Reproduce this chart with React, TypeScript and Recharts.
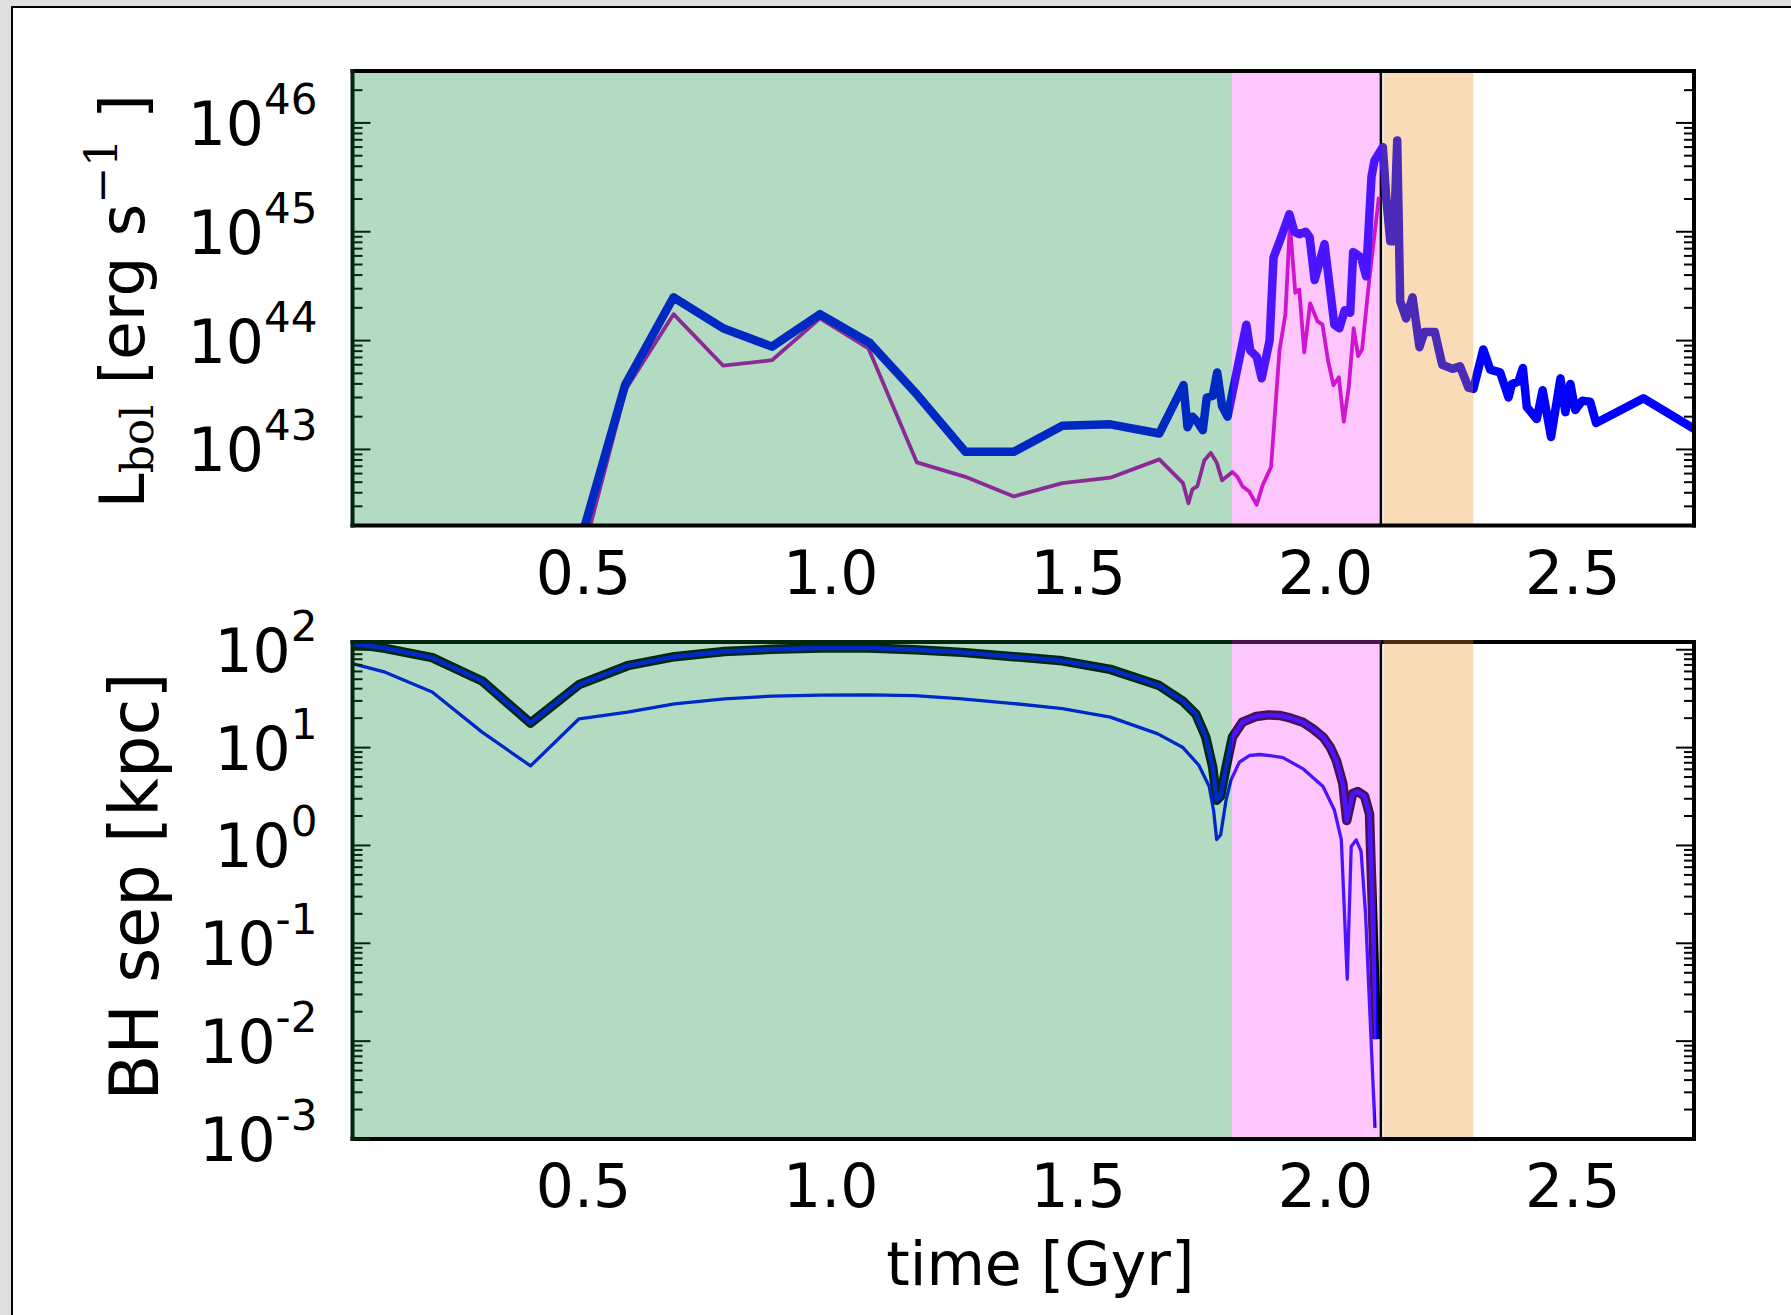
import React from 'react';
import { LineChart, Line, XAxis, YAxis, ReferenceArea, ReferenceLine } from 'recharts';

type Pt = [number, number];

const SANS = '"DejaVu Sans", Verdana, sans-serif';
const SERIF = '"DejaVu Serif", "Liberation Serif", serif';

// time axis [Gyr] and merger phases
const timeRange: [number, number] = [0.033, 2.745];
const timeTicks = [0.5, 1.0, 1.5, 2.0, 2.5];
const timeTickLabels = ['0.5', '1.0', '1.5', '2.0', '2.5'];
const phaseStart = [0.033, 1.811, 2.117];
const phaseEnd = [1.811, 2.113, 2.299];
const phaseFill = ['#b3dbc1', '#fdc6fd', '#f9dbb8'];
const colourEdges = [1.811, 2.115, 2.299];
const mergerTime = 2.112;

// top panel: bolometric luminosity [erg/s]
const lumRange: [number, number] = [2e42, 3e46];
const lumDecades = [1e43, 1e44, 1e45, 1e46];
const lumTickExps = ['43', '44', '45', '46'];

const totalLum: Pt[] = [
  [0.491, 1.3e42], [0.584, 3.9e43], [0.682, 2.5e44], [0.782, 1.3e44], [0.881, 8.8e43],
  [0.978, 1.75e44], [1.079, 9.5e43], [1.174, 3.2e43], [1.272, 9.5e42], [1.37, 9.5e42],
  [1.468, 1.65e43], [1.565, 1.7e43], [1.664, 1.4e43], [1.713, 3.9e43], [1.721, 1.6e43],
  [1.731, 2.0e43], [1.741, 1.8e43], [1.752, 1.5e43], [1.76, 3.0e43], [1.772, 3.1e43],
  [1.781, 5.1e43], [1.791, 2.5e43], [1.802, 2.0e43], [1.84, 1.4e44], [1.848, 8.1e43],
  [1.861, 7.1e43], [1.871, 4.5e43], [1.887, 1.0e44], [1.895, 5.8e44], [1.91, 8.8e44],
  [1.927, 1.45e45], [1.937, 1.0e45], [1.947, 9.5e44], [1.96, 1.0e45], [1.968, 8.9e44],
  [1.978, 3.6e44], [1.998, 7.7e44], [2.018, 1.4e44], [2.028, 1.3e44], [2.039, 1.9e44],
  [2.05, 1.8e44], [2.056, 6.5e44], [2.072, 5.8e44], [2.082, 3.9e44], [2.093, 3.2e45],
  [2.099, 4.5e45], [2.116, 6.0e45], [2.123, 2.0e45], [2.131, 8.2e44], [2.138, 8.2e44],
  [2.145, 6.9e45], [2.151, 2.3e44], [2.163, 1.6e44], [2.176, 2.5e44], [2.19, 8.7e43],
  [2.2, 1.2e44], [2.221, 1.2e44], [2.236, 6.0e43], [2.257, 5.5e43], [2.272, 5.8e43],
  [2.289, 3.7e43], [2.299, 3.6e43], [2.319, 8.3e43], [2.333, 5.4e43], [2.353, 5.1e43],
  [2.37, 3.0e43], [2.377, 4.0e43], [2.39, 4.2e43], [2.399, 5.6e43], [2.407, 2.45e43],
  [2.427, 1.9e43], [2.439, 3.5e43], [2.456, 1.3e43], [2.475, 4.5e43], [2.485, 2.2e43],
  [2.495, 4.0e43], [2.505, 2.3e43], [2.519, 2.8e43], [2.535, 2.75e43], [2.547, 1.75e43],
  [2.643, 2.95e43], [2.75, 1.5e43],
];

const bhLum: Pt[] = [
  [0.491, 8e41], [0.586, 3.6e43], [0.682, 1.75e44], [0.782, 5.9e43], [0.881, 6.6e43],
  [0.978, 1.6e44], [1.076, 8.5e43], [1.174, 7.6e42], [1.272, 5.6e42], [1.37, 3.7e42],
  [1.468, 4.9e42], [1.565, 5.5e42], [1.664, 8.1e42], [1.712, 4.9e42], [1.723, 3.2e42],
  [1.731, 4.3e42], [1.741, 4.6e42], [1.755, 7.9e42], [1.768, 9.3e42], [1.78, 7.6e42],
  [1.791, 5.2e42], [1.812, 6.2e42], [1.822, 5.6e42], [1.832, 4.6e42], [1.846, 4.1e42],
  [1.861, 3.1e42], [1.873, 4.7e42], [1.89, 6.9e42], [1.907, 8.1e43], [1.919, 1.75e44],
  [1.928, 1.17e45], [1.939, 2.75e44], [1.947, 2.95e44], [1.957, 7.8e43], [1.969, 2.2e44],
  [1.984, 1.5e44], [1.994, 1.4e44], [2.005, 6.6e43], [2.016, 3.9e43], [2.027, 4.6e43],
  [2.037, 1.8e43], [2.047, 3.7e43], [2.057, 1.3e44], [2.066, 7.2e43], [2.074, 8.3e43],
  [2.089, 3.8e44], [2.108, 2.1e45],
];

// bottom panel: BH separation [kpc]
const sepRange: [number, number] = [1e-3, 120];
const sepDecades = [1e-3, 1e-2, 1e-1, 1, 10, 100];
const sepTickExps = ['-3', '-2', '-1', '0', '1', '2'];

const sepUpper: Pt[] = [
  [0.033, 115], [0.096, 104], [0.194, 83], [0.295, 48], [0.393, 17.8], [0.491, 44],
  [0.589, 68.7], [0.684, 85], [0.785, 96], [0.88, 101], [0.98, 104], [1.076, 104],
  [1.17, 100], [1.265, 94], [1.37, 85], [1.468, 77], [1.565, 63], [1.664, 43],
  [1.711, 30], [1.738, 22], [1.758, 12.8], [1.772, 6.3], [1.78, 2.9], [1.788, 3.2],
  [1.799, 6.3], [1.812, 12.8], [1.832, 18.2], [1.86, 20.8], [1.885, 21.6], [1.907, 21.3],
  [1.93, 20], [1.954, 18.2], [1.975, 15.5], [1.995, 12.8], [2.01, 10], [2.022, 7.4],
  [2.035, 4.3], [2.043, 1.8], [2.055, 3.4], [2.065, 3.55], [2.079, 3.2], [2.089, 2.1],
  [2.103, 0.0105],
];

const sepLower: Pt[] = [
  [0.033, 72], [0.099, 59], [0.194, 37], [0.295, 14.4], [0.393, 6.5], [0.491, 19.7],
  [0.589, 23], [0.684, 28], [0.785, 31.5], [0.88, 33.6], [0.98, 34.4], [1.076, 34.6],
  [1.17, 33.9], [1.265, 31.5], [1.37, 28.2], [1.468, 25], [1.565, 20.5], [1.66, 13.9],
  [1.711, 10.1], [1.744, 6.6], [1.765, 4.0], [1.774, 2.24], [1.78, 1.15], [1.788, 1.28],
  [1.799, 2.9], [1.809, 4.65], [1.826, 7.1], [1.846, 8.3], [1.867, 8.5], [1.887, 8.3],
  [1.914, 7.9], [1.954, 6.1], [1.995, 4.0], [2.018, 2.3], [2.032, 1.15], [2.044, 0.043],
  [2.052, 0.975], [2.062, 1.14], [2.072, 0.87], [2.081, 0.2], [2.1, 0.0013],
];

// line colours as seen through each phase band: green, pink, orange, none
const lumThickColours = ['#0029c2', '#4b14ff', '#4a2bb8', '#0000ff'];
const lumThinColours = ['#8a2a96', '#d014d0', '#d014d0', '#d014d0'];
const sepColours = ['#0029c8', '#4b14ff', '#4a2bb8', '#0000ff'];
const sepEdgeColours = ['#02280f', '#4a1050', '#4a2e0e', '#000000'];
const spineTint = ['#04260f', '#4a1450', '#4a2e0e', '#000000'];

const rows = (pts: Pt[]) => pts.map(([t, v]) => ({ t, v }));
const isDecade = (v: number) => Math.abs(Math.log10(v) - Math.round(Math.log10(v))) < 1e-9;
const minorTicks = ([lo, hi]: [number, number]) => {
  const out: number[] = [];
  for (let e = Math.floor(Math.log10(lo)); e <= Math.ceil(Math.log10(hi)); e++) {
    for (let m = 2; m <= 9; m++) {
      const v = m * Math.pow(10, e);
      if (v > lo * 1.0001 && v < hi * 0.9999) out.push(v);
    }
  }
  return out;
};
const tintAt = (t: number) =>
  t < colourEdges[0] ? spineTint[0] : t < colourEdges[1] ? spineTint[1] : t < colourEdges[2] ? spineTint[2] : spineTint[3];

function PhaseGradient({ id, pts, colours }: { id: string; pts: Pt[]; colours: string[] }) {
  const t0 = pts[0][0];
  const t1 = pts[pts.length - 1][0];
  const pos = (t: number) => Math.min(1, Math.max(0, (t - t0) / (t1 - t0)));
  const cuts = [0, ...colourEdges.map(pos), 1];
  return (
    <linearGradient id={id} x1="0" y1="0" x2="1" y2="0">
      {colours.map((c, i) => [
        <stop key={`${i}a`} offset={cuts[i]} stopColor={c} />,
        <stop key={`${i}b`} offset={cuts[i + 1]} stopColor={c} />,
      ])}
    </linearGradient>
  );
}

// inward tick marks on all four sides
const tickLen = (v: number) => (isDecade(v) ? 18 : 10);
const LeftIn = ({ x, y, payload }: any) => (
  <line x1={x} y1={y} x2={x + tickLen(payload.value)} y2={y} stroke={spineTint[0]} strokeWidth={2} />
);
const RightIn = ({ x, y, payload }: any) => (
  <line x1={x} y1={y} x2={x - tickLen(payload.value)} y2={y} stroke="#000" strokeWidth={2} />
);
const BottomIn = ({ x, y, payload }: any) => (
  <line x1={x} y1={y} x2={x} y2={y - 18} stroke={tintAt(payload.value)} strokeWidth={2} />
);
const TopIn = ({ x, y, payload }: any) => (
  <line x1={x} y1={y} x2={x} y2={y + 18} stroke={tintAt(payload.value)} strokeWidth={2} />
);

const TimeLabel = ({ x, y, payload }: any) => (
  <text x={x} y={y + 68} textAnchor="middle" fontFamily={SANS} fontSize={60} fill="#000">
    {timeTickLabels[timeTicks.indexOf(payload.value)]}
  </text>
);

const powLabel = (decades: number[], exps: string[]) => ({ x, y, payload }: any) => (
  <text x={x - 35} y={y + 22} textAnchor="end" fontFamily={SANS} fontSize={60} fill="#000">
    10<tspan dy={-31} fontSize={42}>{exps[decades.indexOf(payload.value)]}</tspan>
  </text>
);
const LumTickLabel = powLabel(lumDecades, lumTickExps);
const SepTickLabel = powLabel(sepDecades, sepTickExps);

const LumTitle = (props: any) => {
  const vb = props.viewBox || {};
  const x = (vb.x ?? 0) + 144;
  const y = (vb.y ?? 0) + (vb.height ?? 0) / 2 + 3;
  return (
    <text x={x} y={y} transform={`rotate(-90 ${x} ${y})`} textAnchor="middle" fontFamily={SANS} fontSize={63} fill="#000">
      L<tspan fontFamily={SERIF} fontSize={44} dy={9}>bol</tspan>
      <tspan dy={-9}> [erg s</tspan>
      <tspan fontFamily={SERIF} fontSize={44} dy={-27}>−1</tspan>
      <tspan dy={27}> ]</tspan>
    </text>
  );
};

const SepTitle = (props: any) => {
  const vb = props.viewBox || {};
  const x = (vb.x ?? 0) + 158;
  const y = (vb.y ?? 0) + (vb.height ?? 0) / 2 - 4;
  return (
    <text x={x} y={y} transform={`rotate(-90 ${x} ${y})`} textAnchor="middle" fontFamily={SANS} fontSize={67} fill="#000">
      BH sep [kpc]
    </text>
  );
};

const TimeTitle = (props: any) => {
  const vb = props.viewBox || {};
  const x = (vb.x ?? 0) + (vb.width ?? 0) / 2 + 17;
  const y = (vb.y ?? 0) + 146;
  return (
    <text x={x} y={y} textAnchor="middle" fontFamily={SANS} fontSize={60} fill="#000">
      time [Gyr]
    </text>
  );
};

const spine = (stroke: string) => ({ stroke, strokeWidth: 4, strokeLinecap: 'square' as const });

function phaseBands() {
  return phaseStart.map((s, i) => (
    <ReferenceArea key={`band${i}`} xAxisId="x" yAxisId="y" x1={s} x2={phaseEnd[i]} fill={phaseFill[i]}
      fillOpacity={1} stroke="none" ifOverflow="hidden" zIndex={50} />
  ));
}

function frameAxes(yRange: [number, number], yDecades: number[]) {
  const yTicks = [...yDecades, ...minorTicks(yRange)];
  return [
    <XAxis key="xb" xAxisId="xb" type="number" domain={timeRange} allowDataOverflow ticks={timeTicks} interval={0}
      orientation="bottom" mirror height={30} tickSize={0} tickMargin={0} tickLine={false} tick={BottomIn}
      axisLine={spine('#000')} />,
    <XAxis key="xt" xAxisId="xt" type="number" domain={timeRange} allowDataOverflow ticks={timeTicks} interval={0}
      orientation="top" mirror height={30} tickSize={0} tickMargin={0} tickLine={false} tick={TopIn}
      axisLine={spine('#000')} />,
    <YAxis key="yl" yAxisId="yl" scale="log" domain={yRange} allowDataOverflow ticks={yTicks} interval={0}
      orientation="left" mirror width={40} tickSize={0} tickMargin={0} tickLine={false} tick={LeftIn}
      axisLine={spine(spineTint[0])} />,
    <YAxis key="yr" yAxisId="yr" scale="log" domain={yRange} allowDataOverflow ticks={yTicks} interval={0}
      orientation="right" mirror width={40} tickSize={0} tickMargin={0} tickLine={false} tick={RightIn}
      axisLine={spine('#000')} />,
  ];
}

export default function App() {
  return (
    <div style={{ position: 'absolute', left: 0, top: 0, width: 1791, height: 1315, background: '#dedfe1', overflow: 'hidden' }}>
      <div style={{ position: 'absolute', left: 11, top: 6, right: 0, bottom: 0, background: '#fff', borderLeft: '2px solid #000', borderTop: '2px solid #000' }} />

      <div style={{ position: 'absolute', left: 0, top: 0 }}>
        <LineChart width={1791} height={620} margin={{ top: 71, right: 97, bottom: 34.5, left: 0 }}>
          <defs>
            <PhaseGradient id="gTotalLum" pts={totalLum} colours={lumThickColours} />
            <PhaseGradient id="gBhLum" pts={bhLum} colours={lumThinColours} />
          </defs>
          {phaseBands()}
          <ReferenceLine xAxisId="x" yAxisId="y" x={mergerTime} stroke="#000" strokeWidth={2.5} ifOverflow="visible" zIndex={60} />
          <XAxis xAxisId="x" dataKey="t" type="number" domain={timeRange} allowDataOverflow ticks={timeTicks} interval={0}
            height={60} tickSize={0} tickMargin={0} tickLine={false} axisLine={false} tick={TimeLabel} />
          <YAxis yAxisId="y" scale="log" domain={lumRange} allowDataOverflow ticks={lumDecades} interval={0}
            width={352.5} tickSize={0} tickMargin={0} tickLine={false} axisLine={false} tick={LumTickLabel} label={LumTitle} />
          <Line xAxisId="x" yAxisId="y" data={rows(bhLum)} dataKey="v" type="linear" stroke="url(#gBhLum)" strokeWidth={3.8}
            strokeLinejoin="round" dot={false} activeDot={false} isAnimationActive={false} />
          <Line xAxisId="x" yAxisId="y" data={rows(totalLum)} dataKey="v" type="linear" stroke="url(#gTotalLum)" strokeWidth={8.5}
            strokeLinejoin="round" dot={false} activeDot={false} isAnimationActive={false} />
          {frameAxes(lumRange, lumDecades)}
        </LineChart>
      </div>

      <div style={{ position: 'absolute', left: 0, top: 600 }}>
        <LineChart width={1791} height={715} margin={{ top: 42, right: 97, bottom: 116, left: 0 }}>
          <defs>
            <PhaseGradient id="gSepEdge" pts={sepUpper} colours={sepEdgeColours} />
            <PhaseGradient id="gSepUpper" pts={sepUpper} colours={sepColours} />
            <PhaseGradient id="gSepLower" pts={sepLower} colours={sepColours} />
          </defs>
          {phaseBands()}
          <ReferenceLine xAxisId="x" yAxisId="y" x={mergerTime} stroke="#000" strokeWidth={2.5} ifOverflow="visible" zIndex={60} />
          <XAxis xAxisId="x" dataKey="t" type="number" domain={timeRange} allowDataOverflow ticks={timeTicks} interval={0}
            height={60} tickSize={0} tickMargin={0} tickLine={false} axisLine={false} tick={TimeLabel} label={TimeTitle} />
          <YAxis yAxisId="y" scale="log" domain={sepRange} allowDataOverflow ticks={sepDecades} interval={0}
            width={352.5} tickSize={0} tickMargin={0} tickLine={false} axisLine={false} tick={SepTickLabel} label={SepTitle} />
          <Line xAxisId="x" yAxisId="y" data={rows(sepUpper)} dataKey="v" type="linear" stroke="url(#gSepEdge)" strokeWidth={9.5}
            strokeLinejoin="round" dot={false} activeDot={false} isAnimationActive={false} />
          <Line xAxisId="x" yAxisId="y" data={rows(sepUpper)} dataKey="v" type="linear" stroke="url(#gSepUpper)" strokeWidth={4.5}
            strokeLinejoin="round" dot={false} activeDot={false} isAnimationActive={false} />
          <Line xAxisId="x" yAxisId="y" data={rows(sepLower)} dataKey="v" type="linear" stroke="url(#gSepLower)" strokeWidth={3.3}
            strokeLinejoin="round" dot={false} activeDot={false} isAnimationActive={false} />
          {frameAxes(sepRange, sepDecades)}
          {phaseStart.map((s, i) => (
            <ReferenceLine key={`tint${i}`} xAxisId="x" yAxisId="y" segment={[{ x: s, y: sepRange[1] }, { x: phaseEnd[i], y: sepRange[1] }]}
              stroke={spineTint[i]} strokeWidth={4} ifOverflow="visible" zIndex={700} />
          ))}
        </LineChart>
      </div>
    </div>
  );
}
